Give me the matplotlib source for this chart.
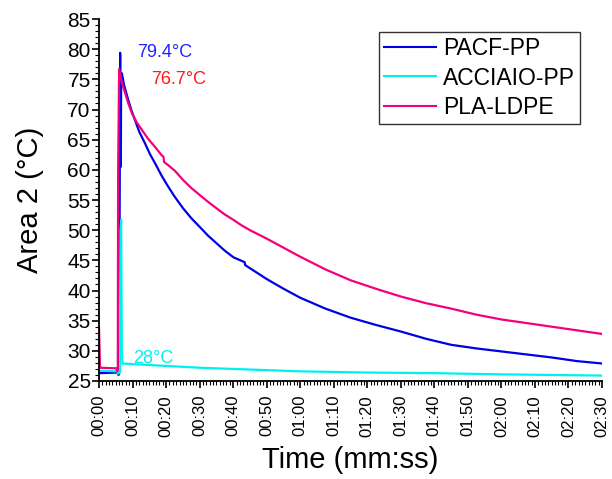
import matplotlib
matplotlib.use("Agg")
import matplotlib.pyplot as plt
from matplotlib.ticker import MultipleLocator, FuncFormatter

plt.rcParams['font.family'] = ['Liberation Sans', 'DejaVu Sans']

# Time in seconds, temperature in deg C
pacf_t = [0, 5.5, 5.8, 6.0, 6.3, 6.5, 6.6, 6.8, 7.5, 8.7, 9.7, 10.7, 12, 13.7, 15.2, 16.7, 18.7,
          20.2, 22.5, 25.1, 27.5, 30.1, 32.5, 35.1, 37.5, 40.1, 43.4, 43.6, 45, 47.5, 50, 55,
          60, 67.5, 75, 82.5, 90, 97.5, 105, 112.5, 120, 127.5, 135, 142.5, 150]
pacf_v = [26.3, 26.4, 26.0, 26.2, 79.4, 60.5, 75.5, 76.0, 74.0, 71.6, 69.8, 68.3, 66.3, 64.4, 62.6, 61.1, 59.0,
          57.6, 55.6, 53.6, 52.0, 50.5, 49.1, 47.8, 46.6, 45.5, 44.7, 44.2, 43.7, 42.8, 41.9, 40.3,
          38.8, 37.0, 35.5, 34.3, 33.2, 32.0, 31.0, 30.4, 29.9, 29.4, 28.9, 28.3, 27.9]

acc_t = [0, 5.5, 5.7, 6.2, 6.4, 6.6, 6.8, 7.0, 10, 20, 30, 45, 60, 80, 100, 120, 150]
acc_v = [26.7, 26.6, 26.2, 26.5, 50.0, 51.7, 30.0, 27.9, 27.8, 27.5, 27.2, 26.9, 26.6, 26.4, 26.3, 26.1, 25.9]

pla_t = [0, 0.3, 5.2, 5.4, 5.6, 5.7, 6.0, 6.8, 7.8, 8.8, 9.8, 11.2, 12.8, 14.7, 16.7, 18.7, 19.2,
         19.4, 21, 22.7, 25.1, 27.5, 30.1, 32.5, 35.1, 37.5, 40.1, 42.5, 45, 47.5, 50, 55, 60,
         67.5, 75, 82.5, 90, 97.5, 105, 112.5, 120, 127.5, 135, 142.5, 150]
pla_v = [33.8, 27.2, 27.1, 26.6, 27.0, 60.0, 76.7, 74.5, 72.7, 70.9, 69.4, 67.9, 66.6, 65.1, 63.8, 62.4, 62.2,
         61.3, 60.6, 59.8, 58.3, 57.0, 55.8, 54.7, 53.6, 52.6, 51.7, 50.8, 50.0, 49.3, 48.6, 47.1, 45.6,
         43.5, 41.7, 40.3, 39.0, 37.9, 37.0, 36.0, 35.2, 34.6, 34.0, 33.4, 32.8]

labels = ['PACF-PP', 'ACCIAIO-PP', 'PLA-LDPE']
colors = ['#0000E6', '#00F0F0', '#F5007A']

fig = plt.figure(figsize=(6.12, 4.79), dpi=100)
ax = fig.add_axes([0.1618, 0.2046, 0.8219, 0.7557])

ax.plot(pacf_t, pacf_v, color=colors[0], lw=1.6, label=labels[0])
ax.plot(acc_t, acc_v, color=colors[1], lw=1.6, label=labels[1])
ax.plot(pla_t, pla_v, color=colors[2], lw=1.6, label=labels[2])

ax.set_xlim(0, 150)
ax.set_ylim(25, 85)

# Axes style: only left and bottom spines
ax.spines['top'].set_visible(False)
ax.spines['right'].set_visible(False)
for s in ['left', 'bottom']:
    ax.spines[s].set_linewidth(1.3)

ax.xaxis.set_major_locator(MultipleLocator(10))
ax.xaxis.set_minor_locator(MultipleLocator(1))
ax.yaxis.set_major_locator(MultipleLocator(5))
ax.yaxis.set_minor_locator(MultipleLocator(1))
ax.xaxis.set_major_formatter(FuncFormatter(lambda v, p: '%02d:%02d' % (int(v) // 60, int(v) % 60)))

ax.tick_params(which='major', length=5, width=1.2, direction='out')
ax.tick_params(which='minor', length=3, width=0.8, direction='out')
ax.tick_params(axis='y', labelsize=15, pad=1)
ax.tick_params(axis='x', labelsize=12, labelrotation=90, pad=5)

ax.set_xlabel('Time (mm:ss)', fontsize=21, labelpad=7)
ax.set_ylabel('Area 2 (°C)', fontsize=21, labelpad=17)

# Peak annotations
ax.text(11.5, 79.4, '79.4°C', color='#2222FF', fontsize=13, va='center', ha='left')
ax.text(15.6, 75.0, '76.7°C', color='#FF1A1A', fontsize=13, va='center', ha='left')
ax.text(10.2, 28.8, '28°C', color='#00F0F0', fontsize=13, va='center', ha='left')

leg = ax.legend(loc='upper right', bbox_to_anchor=(0.956, 0.964), fontsize=16.5, frameon=True,
                fancybox=False, edgecolor='black', handlelength=2.3, handletextpad=0.3,
                labelspacing=0.3, borderpad=0.2, borderaxespad=0.0)
leg.get_frame().set_linewidth(1.0)
for h in leg.get_lines():
    h.set_linewidth(1.5)

fig.savefig('out.png', dpi=100)
